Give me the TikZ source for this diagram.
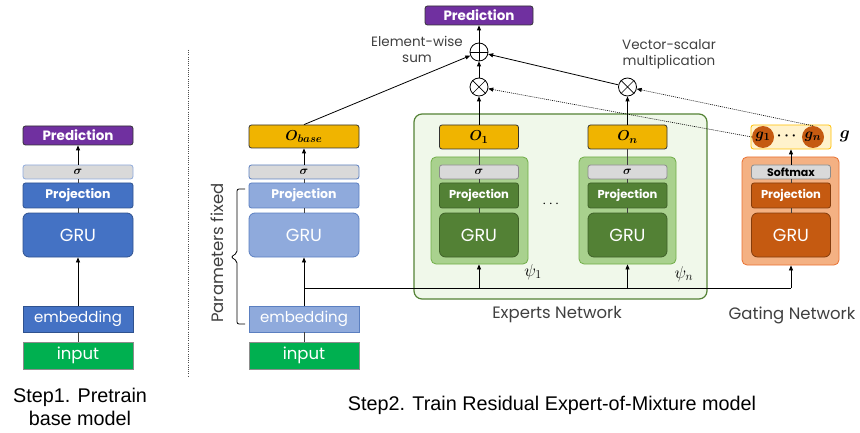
\documentclass[tikz,border=0pt]{standalone}
\usepackage{amsmath}
\usepackage{fontspec}
\setmainfont{Liberation Sans}
\newfontfamily\pop{Poppins}
\usetikzlibrary{arrows.meta}
\definecolor{cpurple}{HTML}{7030A0}
\definecolor{cblue}{HTML}{4472C4}
\definecolor{cblueb}{HTML}{2F528F}
\definecolor{clblue}{HTML}{8FAADC}
\definecolor{clblueb}{HTML}{5B7FC0}
\definecolor{cgray}{HTML}{D9D9D9}
\definecolor{cgreen}{HTML}{00B050}
\definecolor{cgold}{HTML}{F0B400}
\definecolor{cexpo}{HTML}{F0F8EA}
\definecolor{cexpob}{HTML}{548235}
\definecolor{cexpi}{HTML}{A9D18E}
\definecolor{cexpib}{HTML}{70AD47}
\definecolor{cdgreen}{HTML}{538135}
\definecolor{cdgreenb}{HTML}{3F6128}
\definecolor{cgateo}{HTML}{F4B183}
\definecolor{cgateob}{HTML}{E97132}
\definecolor{corange}{HTML}{C55A11}
\definecolor{corangeb}{HTML}{843C0C}
\definecolor{cgbox}{HTML}{FFF2CC}
\definecolor{cgboxb}{HTML}{FFC000}
\definecolor{ctext}{HTML}{404040}
\begin{document}
\begin{tikzpicture}[x=1pt,y=-1pt,
  box/.style={draw, line width=0.8pt, rounded corners=2.5pt, inner sep=0pt, text=white,
    font=\pop\bfseries\fontsize{12.5}{12.5}\selectfont},
  w110/.style={minimum width=110pt}, w80/.style={minimum width=79pt},
  predbox/.style={box, fill=cpurple, draw=black!80, minimum height=19pt, font=\pop\bfseries\fontsize{13.5}{13.5}\selectfont},
  sigbox/.style={box, fill=cgray, minimum height=14pt, text=black, font=\fontsize{12.5}{12.5}\selectfont},
  projbox/.style={box, minimum height=25pt},
  grubox/.style={box, minimum height=44pt, rounded corners=6pt, font=\pop\fontsize{17.5}{17.5}\selectfont},
  embbox/.style={box, minimum height=26pt, rounded corners=0pt, font=\pop\fontsize{15}{15}\selectfont},
  inpbox/.style={box, fill=cgreen, draw=black!45, minimum height=27pt, rounded corners=0pt, font=\pop\fontsize{16.5}{16.5}\selectfont},
  obox/.style={box, fill=cgold, draw=black!80, minimum height=24pt, text=black, font=\fontsize{15}{15}\selectfont},
  opc/.style={circle, draw, line width=0.8pt, minimum size=18pt, inner sep=0pt},
  arr/.style={-{Triangle[length=5pt,width=4pt]}, line width=0.8pt},
  ln/.style={line width=0.8pt, draw=black!75},
  dotl/.style={-{Triangle[length=5pt,width=4pt]}, line width=0.6pt, dash pattern=on 1pt off 1pt},
  note/.style={font=\pop\fontsize{13.5}{16}\selectfont, text=ctext, align=center},
  captxt/.style={font=\fontsize{19.8}{23}\selectfont, align=center, text=black}
]
\useasboundingbox (0,0) rectangle (860,433);

% ---------- Step 1 column ----------
\node[predbox, w110] (pred1) at (78,135.5) {Prediction};
\node[sigbox, w110, draw=clblue] (sig1) at (78,172) {$\boldsymbol{\sigma}$};
\node[projbox, w110, fill=cblue, draw=cblueb] (proj1) at (78,195.5) {Projection};
\node[grubox, w110, fill=cblue, draw=cblueb] (gru1) at (78,235) {GRU};
\node[embbox, w110, fill=cblue, draw=cblueb] (emb1) at (78,319) {embedding};
\node[inpbox, w110] (inp1) at (78,355.5) {input};
\draw[ln] (inp1) -- (emb1);
\draw[arr] (emb1) -- (gru1);
\draw[ln] (gru1) -- (proj1);
\draw[ln] (proj1) -- (sig1);
\draw[arr] (sig1) -- (pred1);
\node[captxt] (cap1) at (80,407) {Step1. Pretrain\\base model};

\draw[line width=0.7pt, dash pattern=on 1pt off 1.2pt, black!70] (188,50) -- (188,377);

% ---------- base model column ----------
\node[obox, w110, minimum height=23pt] (obase) at (304,136.5) {$\boldsymbol{O_{base}}$};
\node[sigbox, w110, draw=clblueb] (sig2) at (304,172) {$\boldsymbol{\sigma}$};
\node[projbox, w110, fill=clblue, draw=clblueb] (proj2) at (304,195.5) {Projection};
\node[grubox, w110, fill=clblue, draw=clblueb] (gru2) at (304,235) {GRU};
\node[embbox, w110, fill=clblue, draw=clblueb] (emb2) at (304,319) {embedding};
\node[inpbox, w110] (inp2) at (304,355.5) {input};
\draw[ln] (inp2) -- (emb2);
\draw[arr] (emb2) -- (gru2);
\draw[ln] (gru2) -- (proj2);
\draw[ln] (proj2) -- (sig2);
\draw[arr] (sig2) -- (obase);

\draw[line width=0.8pt, rounded corners=2pt] (245,189) -- (237,189) -- (237,253) -- (231,257) -- (237,261) -- (237,324) -- (245,324);
\node[font=\pop\fontsize{16.5}{16.5}\selectfont, text=ctext, rotate=90] (pf) at (217,253) {Parameters fixed};

% ---------- Experts network ----------
\node[draw=cexpob, fill=cexpo, line width=1.2pt, rounded corners=8pt, minimum width=293pt, minimum height=185pt] (experts) at (560.5,206.5) {};
\node[draw=cexpib, fill=cexpi, line width=0.8pt, rounded corners=5pt, minimum width=97pt, minimum height=107pt] (e1) at (479.5,210.5) {};
\node[draw=cexpib, fill=cexpi, line width=0.8pt, rounded corners=5pt, minimum width=97pt, minimum height=107pt] (en) at (627.5,210.5) {};

\node[obox, w80] (o1) at (479,137) {$\boldsymbol{O_1}$};
\node[sigbox, w80, draw=black!45] (s1) at (479,172) {$\boldsymbol{\sigma}$};
\node[projbox, w80, fill=cdgreen, draw=cdgreenb, font=\pop\bfseries\fontsize{11.5}{11.5}\selectfont] (p1) at (479,195.5) {Projection};
\node[grubox, w80, fill=cdgreen, draw=cdgreenb] (g1r) at (479,235) {GRU};
\draw[ln] (g1r) -- (p1);
\draw[ln] (p1) -- (s1);
\draw[ln] (s1) -- (o1);

\node[obox, w80] (on) at (627.5,137) {$\boldsymbol{O_n}$};
\node[sigbox, w80, draw=black!45] (sn) at (627.5,172) {$\boldsymbol{\sigma}$};
\node[projbox, w80, fill=cdgreen, draw=cdgreenb, font=\pop\bfseries\fontsize{11.5}{11.5}\selectfont] (pn) at (627.5,195.5) {Projection};
\node[grubox, w80, fill=cdgreen, draw=cdgreenb] (gnr) at (627.5,235) {GRU};
\draw[ln] (gnr) -- (pn);
\draw[ln] (pn) -- (sn);
\draw[ln] (sn) -- (on);

\node[font=\fontsize{14}{14}\selectfont] (edots) at (552,204) {$\cdots$};
\node[font=\fontsize{17}{17}\selectfont] (psi1) at (533,272) {$\psi_1$};
\node[font=\fontsize{17}{17}\selectfont] (psin) at (684,274) {$\psi_n$};
\node[note, font=\pop\fontsize{16.5}{16.5}\selectfont] (expl) at (557,315) {Experts Network};

% ---------- Gating network ----------
\node[draw=cgateob, fill=cgateo, line width=0.8pt, rounded corners=5pt, minimum width=97pt, minimum height=108pt] (gate) at (790.5,211) {};
\node[sigbox, w80, draw=black!45, font=\pop\bfseries\fontsize{11}{11}\selectfont] (smax) at (791,172) {Softmax};
\node[projbox, w80, fill=corange, draw=corangeb, font=\pop\bfseries\fontsize{11.5}{11.5}\selectfont] (pg) at (791,195.5) {Projection};
\node[grubox, w80, fill=corange, draw=corangeb] (gg) at (791,235) {GRU};
\draw[ln] (gg) -- (pg);
\draw[ln] (pg) -- (smax);
\node[box, fill=cgbox, draw=cgboxb, minimum width=80pt, minimum height=24pt] (gbox) at (791,137) {};
\draw[arr] (smax) -- (gbox);
\node[circle, fill=corange, minimum size=22pt, inner sep=0pt, font=\fontsize{15}{15}\selectfont] (gc1) at (763,137) {$\boldsymbol{g_1}$};
\node[circle, fill=corange, minimum size=22pt, inner sep=0pt, font=\fontsize{15}{15}\selectfont] (gcn) at (813,137) {$\boldsymbol{g_n}$};
\node[font=\fontsize{14}{14}\selectfont] (gdots) at (788,136) {$\boldsymbol{\cdots}$};
\node[font=\fontsize{17}{17}\selectfont] (glab) at (845,136) {$\boldsymbol{g}$};
\node[note, font=\pop\fontsize{16.5}{16.5}\selectfont] (gatel) at (792,315) {Gating Network};

% ---------- input branch ----------
\coordinate (br) at (304,288);
\coordinate (b1) at (479,288);
\coordinate (bn) at (627.5,288);
\coordinate (bg) at (791,288);
\draw[line width=0.8pt] (br) -- (bg);
\draw[arr] (b1) -- (e1.south -| b1);
\draw[arr] (bn) -- (en.south -| bn);
\draw[arr] (bg) -- (gate.south -| bg);

% ---------- combination ----------
\node[predbox, minimum width=108pt] (pred2) at (479,15.5) {Prediction};
\node[opc] (plus) at (479,52) {};
\draw[line width=0.7pt] (plus.north) -- (plus.south) (plus.west) -- (plus.east);
\node[opc] (ot1) at (479,87) {};
\draw[line width=0.7pt] (ot1.north west) -- (ot1.south east) (ot1.north east) -- (ot1.south west);
\node[opc] (otn) at (627.5,87) {};
\draw[line width=0.7pt] (otn.north west) -- (otn.south east) (otn.north east) -- (otn.south west);

\draw[arr] (plus) -- (pred2);
\draw[arr] (ot1) -- (plus);
\draw[arr] (o1) -- (ot1);
\draw[arr] (on) -- (otn);
\draw[arr] (obase.north) -- (plus);
\draw[arr] (otn) -- (plus);
\draw[dotl] (gc1.west) -- (ot1);
\draw[dotl] (gcn.north) -- (otn);

\node[note] (ews) at (417,49) {Element-wise\\sum};
\node[note] (vsm) at (669,54.5) {Vector-scalar\\multiplication};

\node[captxt] (cap2) at (552,405) {Step2. Train Residual Expert-of-Mixture model};
\end{tikzpicture}
\end{document}
